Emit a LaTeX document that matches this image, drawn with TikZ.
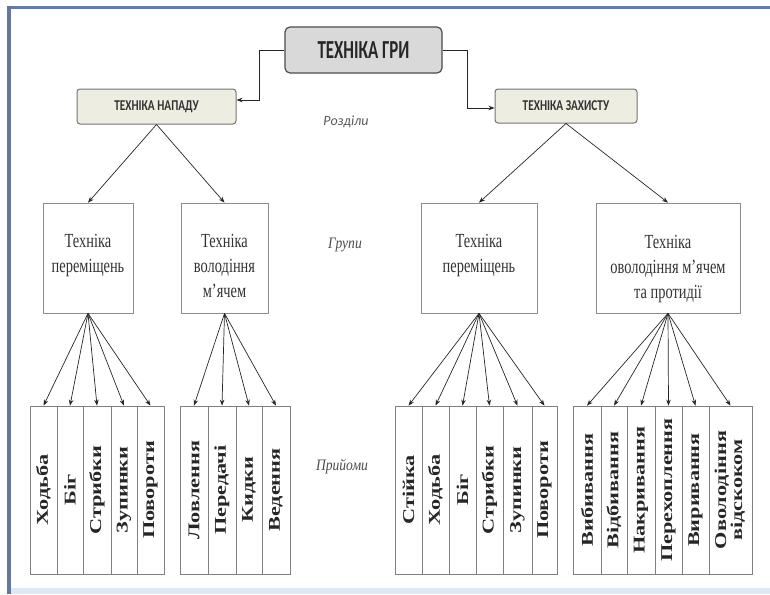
\documentclass[tikz,border=0pt]{standalone}
\usepackage{fontspec}
\setmainfont{Liberation Serif}
\newfontfamily\cellfont[FakeStretch=1.35]{Liberation Serif}
\newfontfamily\grpfont[FakeStretch=0.72]{Liberation Serif}
\newfontfamily\hdfont[FakeStretch=0.65]{Carlito}
\newfontfamily\secfont[FakeStretch=0.75]{Carlito}
\newfontfamily\lblfont[FakeStretch=0.85]{Liberation Serif}
\newfontfamily\razfont{Carlito}
\usetikzlibrary{arrows.meta}
\definecolor{framebar}{RGB}{100,118,160}
\definecolor{frametop}{RGB}{95,125,180}
\definecolor{framebot}{RGB}{222,233,247}
\definecolor{titlefill}{RGB}{217,217,217}
\definecolor{secfill}{RGB}{238,237,226}
\tikzset{
  conn/.style={draw=black!85, line width=0.7pt, -{Stealth[length=6pt,width=4.5pt]}},
  titlebox/.style={draw=black!70, line width=1.2pt, fill=titlefill, rounded corners=5pt, inner sep=0pt},
  secbox/.style={draw=black!55, line width=1pt, fill=secfill, rounded corners=3pt, inner sep=0pt},
  grpbox/.style={draw=black!45, line width=0.7pt, inner sep=0pt},
  grptext/.style={anchor=north, align=center, inner sep=0pt, font=\grpfont\fontsize{20}{25}\selectfont, text=black!80},
  cellbox/.style={draw=black!50, line width=0.7pt, inner sep=0pt, minimum height=168pt, font=\cellfont\bfseries\fontsize{16.5}{18}\selectfont, text=black!85},
  sidelbl/.style={inner sep=0pt, font=\lblfont\itshape\fontsize{16}{18}\selectfont, text=black!70},
}
\newcommand{\vt}[1]{\rotatebox{90}{#1}}
\begin{document}
\begin{tikzpicture}[x=1pt,y=-1pt]
\useasboundingbox (0,0) rectangle (770,594);
% frame
\fill[framebot] (7,588) rectangle (770,594);
\fill[frametop] (7,6.5) rectangle (770,9);
\fill[framebar] (7,6.5) rectangle (11,594);

% top level
\node[titlebox, minimum width=157pt, minimum height=46pt, font=\hdfont\bfseries\fontsize{26}{28}\selectfont, text=black!85] (gri) at (363.5,50) {ТЕХНІКА ГРИ};
\node[secbox, minimum width=159pt, minimum height=35pt, font=\secfont\bfseries\fontsize{15}{17}\selectfont, text=black!80] (napad) at (156.5,106.5) {ТЕХНІКА НАПАДУ};
\node[secbox, minimum width=142pt, minimum height=34pt, font=\secfont\bfseries\fontsize{15}{17}\selectfont, text=black!80] (zakhyst) at (566,106) {ТЕХНІКА ЗАХИСТУ};
\coordinate (cl) at (259,50);
\coordinate (cr) at (467,50);
\draw[conn] (gri.west) -- (cl) |- (napad.east |- 0,100);
\draw[conn] (gri.east) -- (cr) |- (zakhyst.west |- 0,108);

\node[inner sep=0pt, font=\razfont\itshape\fontsize{14}{16}\selectfont, text=black!65] (rozdily) at (346,122) {Розділи};
\node[sidelbl] (grupy) at (345,245) {Групи};
\node[sidelbl] (pryiomy) at (342,467) {Прийоми};

% group boxes
\node[grpbox, minimum width=90pt, minimum height=110pt] (g1) at (88,258) {};
\node[grpbox, minimum width=87pt, minimum height=110pt] (g2) at (224.5,258) {};
\node[grpbox, minimum width=116pt, minimum height=110pt] (g3) at (479,258) {};
\node[grpbox, minimum width=144pt, minimum height=110pt] (g4) at (668,258) {};
\node[grptext] (t1) at (88,234) {Техніка\\переміщень};
\node[grptext] (t2) at (224.5,234) {Техніка\\володіння\\м’ячем};
\node[grptext] (t3) at (479,234) {Техніка\\переміщень};
\node[grptext] (t4) at (668,235) {Техніка\\оволодіння м’ячем\\та протидії};

\draw[conn] (napad.south) -- (g1.north);
\draw[conn] (napad.south) -- (g2.north);
\draw[conn] (zakhyst.south) -- (g3.north);
\draw[conn] (zakhyst.south) -- (g4.north);

% cells group 1
\node[cellbox, minimum width=27pt] (a1) at (43.5,490) {\vt{Ходьба}};
\node[cellbox, minimum width=26pt] (a2) at (70,490) {\vt{Біг}};
\node[cellbox, minimum width=28pt] (a3) at (97,490) {\vt{Стрибки}};
\node[cellbox, minimum width=26pt] (a4) at (124,490) {\vt{Зупинки}};
\node[cellbox, minimum width=27pt] (a5) at (150.5,490) {\vt{Повороти}};
% cells group 2
\node[cellbox, minimum width=28pt] (b1) at (194,490) {\vt{Ловлення}};
\node[cellbox, minimum width=28pt] (b2) at (222,490) {\vt{Передачі}};
\node[cellbox, minimum width=26pt] (b3) at (249,490) {\vt{Кидки}};
\node[cellbox, minimum width=28pt] (b4) at (276,490) {\vt{Ведення}};
% cells group 3
\node[cellbox, minimum width=27pt] (c1) at (408.5,490) {\vt{Стійка}};
\node[cellbox, minimum width=27pt] (c2) at (435.5,490) {\vt{Ходьба}};
\node[cellbox, minimum width=27pt] (c3) at (462.5,490) {\vt{Біг}};
\node[cellbox, minimum width=27pt] (c4) at (489.5,490) {\vt{Стрибки}};
\node[cellbox, minimum width=29pt] (c5) at (517.5,490) {\vt{Зупинки}};
\node[cellbox, minimum width=25pt] (c6) at (544.5,490) {\vt{Повороти}};
% cells group 4
\node[cellbox, minimum width=28pt] (d1) at (587,490) {\vt{Вибивання}};
\node[cellbox, minimum width=26pt] (d2) at (614,490) {\vt{Відбивання}};
\node[cellbox, minimum width=28pt] (d3) at (641,490) {\vt{Накривання}};
\node[cellbox, minimum width=27pt] (d4) at (668.5,490) {\vt{Перехоплення}};
\node[cellbox, minimum width=27pt] (d5) at (695.5,490) {\vt{Виривання}};
\node[cellbox, minimum width=43pt] (d6) at (730.5,490) {\vt{\begin{tabular}{@{}c@{}}Оволодіння\\[-2pt]відскоком\end{tabular}}};

\foreach \c in {a1,a2,a3,a4,a5} \draw[conn] (g1.south) -- (\c.north);
\foreach \c in {b1,b2,b3,b4} \draw[conn] (g2.south) -- (\c.north);
\foreach \c in {c1,c2,c3,c4,c5,c6} \draw[conn] (g3.south) -- (\c.north);
\foreach \c in {d1,d2,d3,d4,d5,d6} \draw[conn] (g4.south) -- (\c.north);
\end{tikzpicture}
\end{document}
